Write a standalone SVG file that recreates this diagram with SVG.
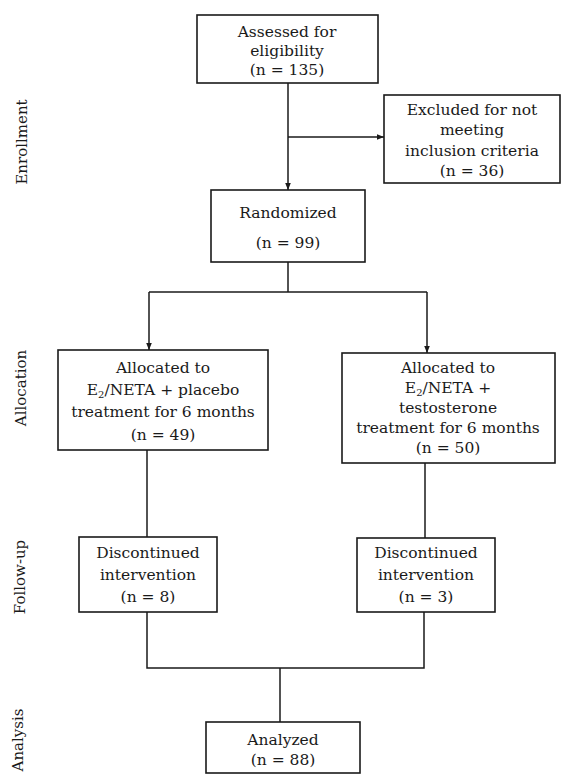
<svg xmlns="http://www.w3.org/2000/svg" width="566" height="775" viewBox="0 0 566 775">
<style>
.box{fill:#fff;stroke:#1a1a1a;stroke-width:1.6}
.t{font-family:'DejaVu Serif','Liberation Serif',serif;font-size:15.5px;fill:#1a1a1a;text-anchor:middle}
.side{font-family:'DejaVu Serif','Liberation Serif',serif;font-size:15px;fill:#1a1a1a;text-anchor:middle}
.c{fill:none;stroke:#1a1a1a;stroke-width:1.5}
.sub{font-size:10px}
</style>
<defs>
<marker id="ah" viewBox="0 0 10 10" refX="10" refY="5" markerWidth="7" markerHeight="7" orient="auto" markerUnits="userSpaceOnUse">
<path d="M0,1 L10,5 L0,9 z" fill="#1a1a1a"/>
</marker>
</defs>
<rect width="566" height="775" fill="#fff"/>
<g id="side-labels">
<text class="side" transform="translate(27,142) rotate(-90)">Enrollment</text>
<text class="side" transform="translate(26,388) rotate(-90)">Allocation</text>
<text class="side" transform="translate(25,577) rotate(-90)">Follow-up</text>
<text class="side" transform="translate(23,740) rotate(-90)">Analysis</text>
</g>
<g id="connectors">
<line class="c" x1="288" y1="83" x2="288" y2="190" marker-end="url(#ah)"/>
<line class="c" x1="288" y1="137" x2="384" y2="137" marker-end="url(#ah)"/>
<line class="c" x1="288" y1="262" x2="288" y2="292"/>
<line class="c" x1="149" y1="292" x2="427" y2="292"/>
<line class="c" x1="149" y1="292" x2="149" y2="350" marker-end="url(#ah)"/>
<line class="c" x1="427" y1="292" x2="427" y2="353" marker-end="url(#ah)"/>
<line class="c" x1="147" y1="450" x2="147" y2="537"/>
<line class="c" x1="425" y1="463" x2="425" y2="538"/>
<polyline class="c" points="147,612 147,668 424,668 424,612"/>
<line class="c" x1="280" y1="668" x2="280" y2="722"/>
</g>
<g id="assessed">
<rect class="box" x="197" y="15" width="181" height="68"/>
<text class="t" x="287" y="37">Assessed for</text>
<text class="t" x="287" y="56">eligibility</text>
<text class="t" x="287" y="75">(n = 135)</text>
</g>
<g id="excluded">
<rect class="box" x="384" y="95" width="176" height="88"/>
<text class="t" x="472" y="115">Excluded for not</text>
<text class="t" x="472" y="135">meeting</text>
<text class="t" x="472" y="156">inclusion criteria</text>
<text class="t" x="472" y="176">(n = 36)</text>
</g>
<g id="randomized">
<rect class="box" x="211" y="190" width="154" height="72"/>
<text class="t" x="288" y="218">Randomized</text>
<text class="t" x="288" y="248">(n = 99)</text>
</g>
<g id="alloc-placebo">
<rect class="box" x="58" y="350" width="210" height="100"/>
<text class="t" x="163" y="373">Allocated to</text>
<text class="t" x="163" y="395">E<tspan class="sub" baseline-shift="-3">2</tspan>/NETA + placebo</text>
<text class="t" x="163" y="417">treatment for 6 months</text>
<text class="t" x="163" y="440">(n = 49)</text>
</g>
<g id="alloc-testosterone">
<rect class="box" x="342" y="353" width="213" height="110"/>
<text class="t" x="448" y="373">Allocated to</text>
<text class="t" x="448" y="393">E<tspan class="sub" baseline-shift="-3">2</tspan>/NETA  +</text>
<text class="t" x="448" y="413">testosterone</text>
<text class="t" x="448" y="433">treatment for 6 months</text>
<text class="t" x="448" y="453">(n = 50)</text>
</g>
<g id="disc-placebo">
<rect class="box" x="79" y="537" width="138" height="75"/>
<text class="t" x="148" y="558">Discontinued</text>
<text class="t" x="148" y="580">intervention</text>
<text class="t" x="148" y="602">(n = 8)</text>
</g>
<g id="disc-testosterone">
<rect class="box" x="357" y="538" width="138" height="74"/>
<text class="t" x="426" y="558">Discontinued</text>
<text class="t" x="426" y="580">intervention</text>
<text class="t" x="426" y="602">(n = 3)</text>
</g>
<g id="analyzed">
<rect class="box" x="206" y="722" width="154" height="51"/>
<text class="t" x="283" y="745">Analyzed</text>
<text class="t" x="283" y="765">(n = 88)</text>
</g>
</svg>
